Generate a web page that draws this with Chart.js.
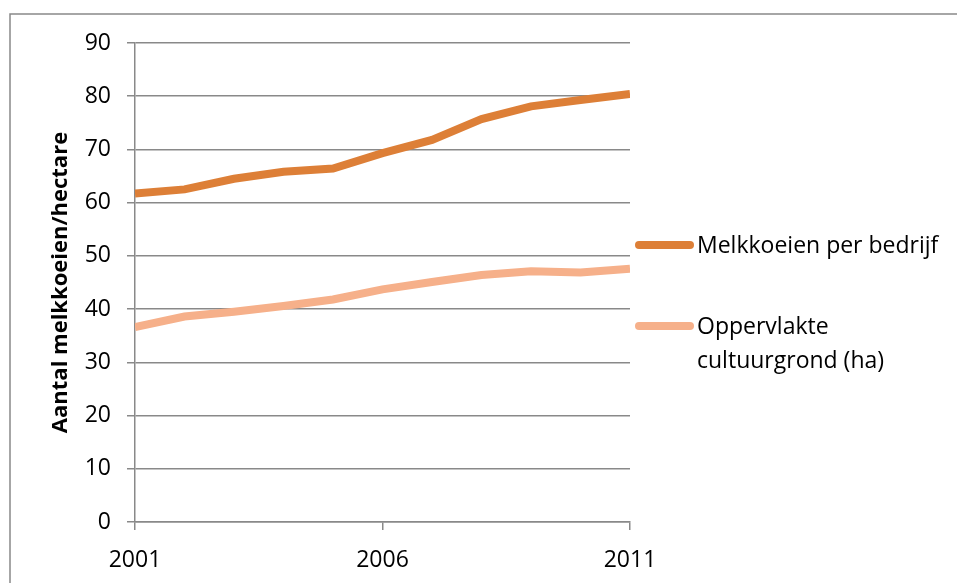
<!DOCTYPE html>
<html><head><meta charset="utf-8">
<script src="https://cdn.jsdelivr.net/npm/chart.js@4.4.1/dist/chart.umd.min.js"></script>
<style>html,body{margin:0;padding:0;background:#fff;overflow:hidden}#wrap{width:957px;height:583px;position:relative}</style>
</head><body><div id="wrap"><canvas id="c" width="957" height="583"></canvas></div>
<script>
const years = [2001, 2002, 2003, 2004, 2005, 2006, 2007, 2008, 2009, 2010, 2011];
const melkkoeienPerBedrijf = [61.7, 62.5, 64.5, 65.8, 66.4, 69.3, 71.8, 75.7, 78.1, 79.3, 80.4];
const oppervlakteCultuurgrond = [36.6, 38.6, 39.5, 40.6, 41.8, 43.7, 45.1, 46.4, 47.1, 46.9, 47.6];
const seriesLabels = [['Melkkoeien per bedrijf'], ['Oppervlakte', 'cultuurgrond (ha)']];
const xTickLabels = [2001, 2006, 2011];
const yAxisTitle = 'Aantal melkkoeien/hectare';

const FONT = "'Open Sans', sans-serif";
const GRID = '#898989';
const colors = ['#DD7F37', '#F6B08A'];

const framePlugin = {
  id: 'frame',
  beforeDraw(chart) {
    const ctx = chart.ctx;
    ctx.save();
    ctx.strokeStyle = GRID;
    ctx.lineWidth = 1.5;
    ctx.beginPath();
    ctx.moveTo(10, 583);
    ctx.lineTo(10, 14);
    ctx.lineTo(957, 14);
    ctx.stroke();
    ctx.restore();
  }
};

const legendPlugin = {
  id: 'customLegend',
  afterDraw(chart) {
    const ctx = chart.ctx;
    const itemY = [245, 326];
    ctx.save();
    ctx.font = '23px ' + FONT;
    ctx.textBaseline = 'middle';
    ctx.fillStyle = '#000';
    chart.data.datasets.forEach((ds, i) => {
      const y = itemY[i];
      ctx.strokeStyle = ds.borderColor;
      ctx.lineWidth = 8;
      ctx.lineCap = 'round';
      ctx.beginPath();
      ctx.moveTo(639, y);
      ctx.lineTo(690, y);
      ctx.stroke();
      ds.legendLines.forEach((t, j) => {
        ctx.fillText(t, 697, y + 1 + j * 34);
      });
    });
    ctx.restore();
  }
};

const datasets = [melkkoeienPerBedrijf, oppervlakteCultuurgrond].map((vals, i) => ({
  label: seriesLabels[i].join(' '),
  legendLines: seriesLabels[i],
  data: years.map((yr, k) => ({ x: yr, y: vals[k] })),
  borderColor: colors[i],
  backgroundColor: colors[i],
  borderWidth: 8,
  pointRadius: 0,
  tension: 0,
  fill: false
}));

new Chart(document.getElementById('c'), {
  type: 'line',
  data: { datasets },
  plugins: [framePlugin, legendPlugin],
  options: {
    responsive: false,
    animation: false,
    events: [],
    layout: { padding: { top: 43, right: 327, left: 0, bottom: 0 } },
    plugins: { legend: { display: false }, tooltip: { enabled: false } },
    scales: {
      x: {
        type: 'linear',
        min: years[0],
        max: years[years.length - 1],
        afterBuildTicks: s => { s.ticks = xTickLabels.map(v => ({ value: v })); },
        afterFit: s => { s.height = 61; },
        ticks: {
          callback: v => String(v),
          font: { family: FONT, size: 23 },
          color: '#000',
          padding: 17,
          maxRotation: 0,
          autoSkip: false
        },
        grid: { drawOnChartArea: false, tickLength: 8, color: GRID, lineWidth: 1.5 },
        border: { color: GRID, width: 1.5 }
      },
      y: {
        min: 0,
        max: 90,
        afterFit: s => { s.width = 135; },
        ticks: {
          stepSize: 10,
          font: { family: FONT, size: 23 },
          color: '#000',
          padding: 16
        },
        grid: { color: GRID, lineWidth: 1.5, tickLength: 8 },
        border: { color: GRID, width: 1.5 },
        title: {
          display: true,
          text: yAxisTitle,
          font: { family: FONT, size: 22, weight: 'bold' },
          color: '#000',
          padding: { top: 48, bottom: 0 }
        }
      }
    }
  }
});
</script></body></html>
